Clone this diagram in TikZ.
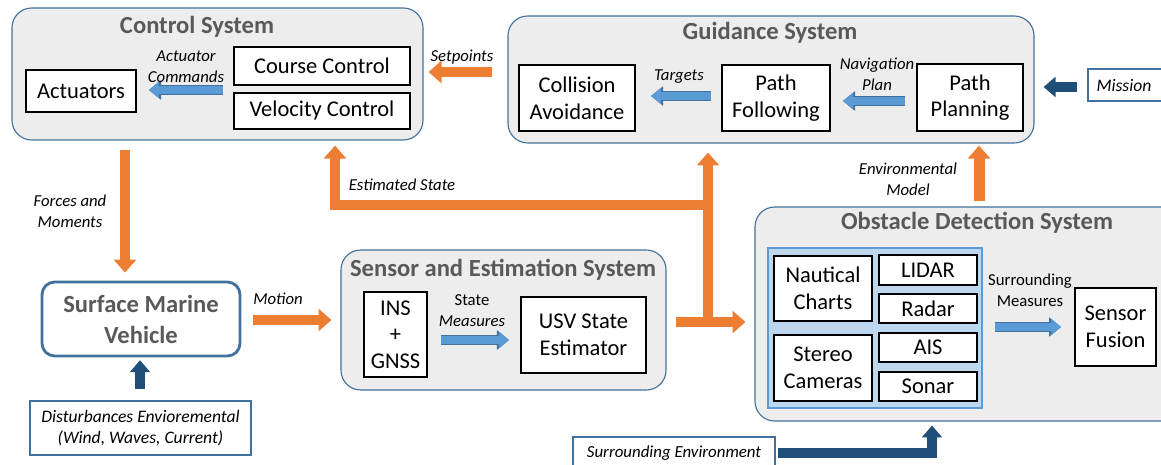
\documentclass[tikz,border=0pt]{standalone}
\usepackage{fontspec}
\setmainfont{Carlito}
\usetikzlibrary{arrows.meta,fit}
\definecolor{flowOrange}{HTML}{ED7D31}
\definecolor{dataBlue}{HTML}{5B9BD5}
\definecolor{edgeBlue}{HTML}{41719C}
\definecolor{inputNavy}{HTML}{1F4E79}
\definecolor{panelGray}{HTML}{EDEDED}
\definecolor{titleGray}{HTML}{595959}
\definecolor{sensorBlue}{HTML}{BDD7EE}
\begin{document}
\begin{tikzpicture}[x=0.025cm, y=-0.025cm,
  system/.style={draw=edgeBlue, fill=panelGray, rounded corners=14pt, line width=0.8pt, inner sep=0pt},
  block/.style={draw=black, fill=white, line width=1.4pt, inner sep=0pt},
  btext/.style={align=center, inner sep=0pt, font=\fontsize{16}{19}\selectfont},
  systitle/.style={font=\fontsize{17.5}{20}\selectfont\bfseries, text=titleGray},
  lab/.style={font=\fontsize{11.9}{15}\selectfont\itshape, align=center},
  labup/.style={font=\fontsize{11.9}{15}\selectfont, align=center},
  extbox/.style={draw=edgeBlue, fill=white, line width=1pt, inner sep=0pt},
  exttext/.style={align=center, inner sep=0pt, font=\fontsize{12.5}{15}\selectfont\itshape},
  flow/.style={draw=flowOrange, line width=7.8pt, line join=miter,
               -{Triangle[length=9.2pt,width=15.6pt]}},
  data/.style={preaction={draw=edgeBlue, line width=7.6pt, -{Triangle[length=8.6pt,width=13.4pt]}},
               draw=dataBlue, line width=6pt, -{Triangle[length=7pt,width=11.4pt]}},
  input/.style={draw=inputNavy, line width=7pt, line join=miter,
                -{Triangle[length=8.5pt,width=14pt]}},
]
\clip (0,0) rectangle (1161,465);

% ---- system panels ----
\node[system, fit={(12,8) (423,140)}] (ctrl) {};
\node[systitle] at (197,27) {Control System};
\node[system, fit={(508,16) (1034,143)}] (guid) {};
\node[systitle] at (770,33) {Guidance System};
\node[system, fit={(341,250) (666,390)}] (sens) {};
\node[systitle] at (503,270) {Sensor and Estimation System};
\node[system, fit={(755,207) (1185,421)}] (ods) {};
\node[systitle] at (977,223) {Obstacle Detection System};

% ---- control system blocks ----
\node[block, fit={(234,47) (410,85)}, label={[btext]center:Course Control}] (course) {};
\node[block, fit={(234,93) (410,129)}, label={[btext]center:Velocity Control}] (veloc) {};
\node[block, fit={(26,70) (136,112)}, label={[btext]center:Actuators}] (act) {};

% ---- guidance blocks ----
\node[block, fit={(519,65) (635,131)}, label={[btext]center:Collision\\Avoidance}] (coll) {};
\node[block, fit={(722,65) (830,131)}, label={[btext]center:Path\\Following}] (pfol) {};
\node[block, fit={(917,64) (1023,131)}, label={[btext]center:Path\\Planning}] (pplan) {};

% ---- sensor and estimation blocks ----
\node[block, fit={(364,292) (427,377)}, label={[btext]center:INS\\+\\GNSS}] (ins) {};
\node[block, fit={(521,297) (646,373)}, label={[btext]center:USV State\\Estimator}] (usv) {};

% ---- obstacle detection blocks ----
\node[draw=dataBlue, fill=sensorBlue, line width=1pt, inner sep=0pt, fit={(768,248) (982,408)}] (sensors) {};
\node[block, fit={(774,256) (872,321)}, label={[btext]center:Nautical\\Charts}] (charts) {};
\node[block, fit={(774,335) (872,401)}, label={[btext]center:Stereo\\Cameras}] (stereo) {};
\node[block, fit={(879,255) (977,285)}, label={[btext]center:LIDAR}] (lidar) {};
\node[block, fit={(879,294) (977,323)}, label={[btext]center:Radar}] (radar) {};
\node[block, fit={(879,333) (977,362)}, label={[btext]center:AIS}] (ais) {};
\node[block, fit={(879,372) (977,401)}, label={[btext]center:Sonar}] (sonar) {};
\node[block, fit={(1075,288) (1156,366)}, label={[btext]center:Sensor\\Fusion}] (fusion) {};

% ---- vessel and external inputs ----
\node[draw=edgeBlue, fill=white, line width=2pt, rounded corners=9pt, inner sep=0pt, fit={(42,282) (240,356)},
      label={[align=center, inner sep=0pt, font=\fontsize{17.5}{22}\selectfont\bfseries, text=titleGray]center:Surface Marine\\Vehicle}] (smv) {};
\node[extbox, fit={(30,401) (251,455)}, label={[exttext]center:Disturbances Envioremental\\(Wind, Waves, Current)}] (dist) {};
\node[extbox, fit={(1088,69) (1185,101)}] (mission) {};
\node[exttext] at (1124,86) {Mission};
\node[extbox, fit={(573,437) (775,480)}] (env) {};
\node[exttext, font=\fontsize{12}{15}\selectfont\itshape] at (674,453) {Surrounding Environment};

% ---- helper coordinates for connector rows/columns ----
\coordinate (rowSet) at (0,72);
\coordinate (rowAct) at (0,90);
\coordinate (rowTgt) at (0,96);
\coordinate (rowNav) at (0,101);
\coordinate (rowMis) at (0,87);
\coordinate (rowMot) at (0,320);
\coordinate (rowSM) at (0,340);
\coordinate (rowSur) at (0,327);
\coordinate (colFor) at (125,0);
\coordinate (colDis) at (140,0);
\coordinate (colEnv) at (979,0);
\coordinate (jn) at (708,322);
\coordinate (bendA) at (708,205);
\coordinate (bendB) at (335,205);
\coordinate (bendC) at (932,453);

% ---- orange flows ----
\draw[flow, shorten <=10.7pt, shorten >=3.6pt] (guid.west |- rowSet) -- (ctrl.east |- rowSet);
\draw[flow, shorten <=7pt, shorten >=5.7pt] (ctrl.south -| colFor) -- (smv.north -| colFor);
\draw[flow, shorten <=8.5pt, shorten >=6.4pt] (smv.east |- rowMot) -- (sens.west |- rowMot);
\draw[flow, shorten <=4pt, shorten >=1.5pt] (ods.north -| colEnv) -- (guid.south -| colEnv);
\draw[flow, shorten <=6.4pt, shorten >=6.4pt] (sens.east |- jn) -- (ods.west |- jn);
\draw[flow, shorten >=6.4pt] (jn) -- (jn |- guid.south);
\draw[flow, shorten >=3.6pt] (bendA) -- (bendB) -- (bendB |- ctrl.south);

% ---- blue data arrows ----
\draw[data, shorten <=7pt, shorten >=8.5pt] (course.west |- rowAct) -- (act.east |- rowAct);
\draw[data, shorten <=7pt, shorten >=10.7pt] (pfol.west |- rowTgt) -- (coll.east |- rowTgt);
\draw[data, shorten <=7.8pt, shorten >=8.5pt] (pplan.west |- rowNav) -- (pfol.east |- rowNav);
\draw[data, shorten <=9.2pt, shorten >=7.8pt] (ins.east |- rowSM) -- (usv.west |- rowSM);
\draw[data, shorten <=8.5pt, shorten >=9.2pt] (sensors.east |- rowSur) -- (fusion.west |- rowSur);

% ---- navy external inputs ----
\draw[input, shorten <=7pt, shorten >=6.4pt] (mission.west |- rowMis) -- (guid.east |- rowMis);
\draw[input, shorten <=7.8pt, shorten >=2pt] (dist.north -| colDis) -- (smv.south -| colDis);
\draw[input, shorten >=2.8pt] (env.east |- bendC) ++(2,0) -- (bendC) -- (bendC |- ods.south);

% ---- labels ----
\node[lab] at (186,67) {Actuator\\Commands};
\node[lab] at (462,57) {Setpoints};
\node[lab] at (679,77) {Targets};
\node[lab] at (877,74) {Navigation\\Plan};
\node[lab] at (70,211) {Forces and\\Moments};
\node[lab] at (278,299) {Motion};
\node[lab] at (402,185) {Estimated State};
\node[lab] at (908,179) {Environmental\\Model};
\node[labup] at (472,300) {State};
\node[lab] at (472,321) {Measures};
\node[labup] at (1030,290) {Surrounding\\Measures};
\end{tikzpicture}
\end{document}
